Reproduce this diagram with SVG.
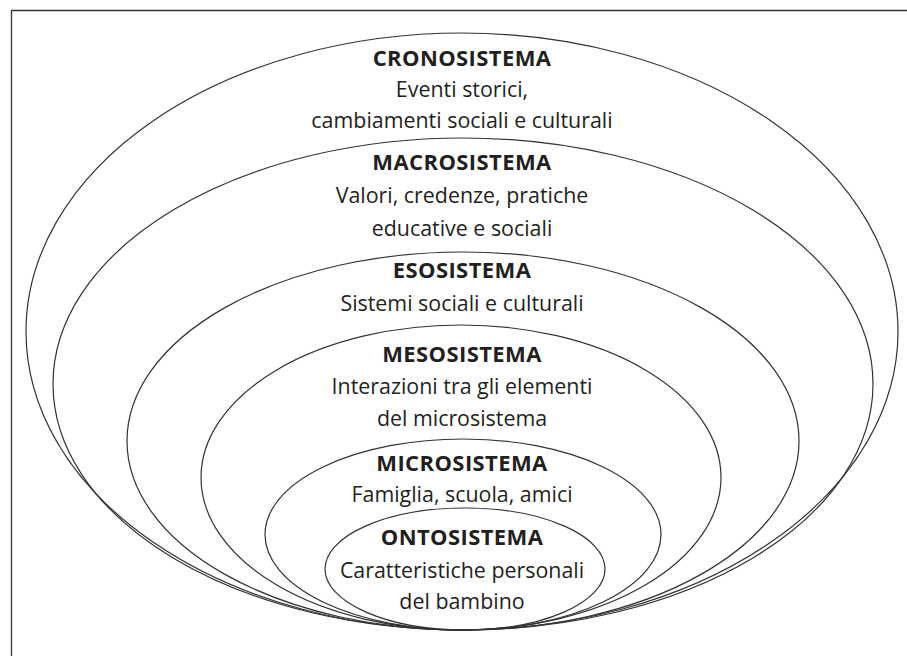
<svg xmlns="http://www.w3.org/2000/svg" width="907" height="656" viewBox="0 0 907 656">
<style>
.e{fill:none;stroke:#333;stroke-width:1.2}
.t{font-family:"Open Sans",Lato,"Liberation Sans",sans-serif;font-size:21.4px;fill:#231f20;text-anchor:middle}
.b{font-weight:bold;font-size:22px;letter-spacing:0.4px}
</style>
<rect width="907" height="656" fill="#fff"/>
<path d="M11.5 660 V10.5 H910" fill="none" stroke="#333" stroke-width="1.3"/>
<g id="crono">
<ellipse class="e" cx="462" cy="331.5" rx="436" ry="298.5"/>
<text class="t b" x="462" y="66">CRONOSISTEMA</text>
<text class="t" x="462" y="97">Eventi storici,</text>
<text class="t" x="462" y="128">cambiamenti sociali e culturali</text>
</g>
<g id="macro">
<ellipse class="e" cx="463" cy="384" rx="410" ry="246"/>
<text class="t b" x="462" y="170">MACROSISTEMA</text>
<text class="t" x="462" y="203">Valori, credenze, pratiche</text>
<text class="t" x="462" y="236">educative e sociali</text>
</g>
<g id="eso">
<ellipse class="e" cx="463" cy="441" rx="336" ry="189"/>
<text class="t b" x="462" y="278">ESOSISTEMA</text>
<text class="t" x="462" y="311">Sistemi sociali e culturali</text>
</g>
<g id="meso">
<ellipse class="e" cx="461" cy="477.5" rx="260" ry="152.5"/>
<text class="t b" x="462" y="362">MESOSISTEMA</text>
<text class="t" x="462" y="394">Interazioni tra gli elementi</text>
<text class="t" x="462" y="426">del microsistema</text>
</g>
<g id="micro">
<ellipse class="e" cx="463" cy="534.5" rx="198" ry="95.5"/>
<text class="t b" x="462" y="471">MICROSISTEMA</text>
<text class="t" x="462" y="502">Famiglia, scuola, amici</text>
</g>
<g id="onto">
<ellipse class="e" cx="465" cy="569" rx="140" ry="61"/>
<text class="t b" x="462" y="545">ONTOSISTEMA</text>
<text class="t" x="462" y="578">Caratteristiche personali</text>
<text class="t" x="462" y="609">del bambino</text>
</g>
<g id="connectors"/>
</svg>
